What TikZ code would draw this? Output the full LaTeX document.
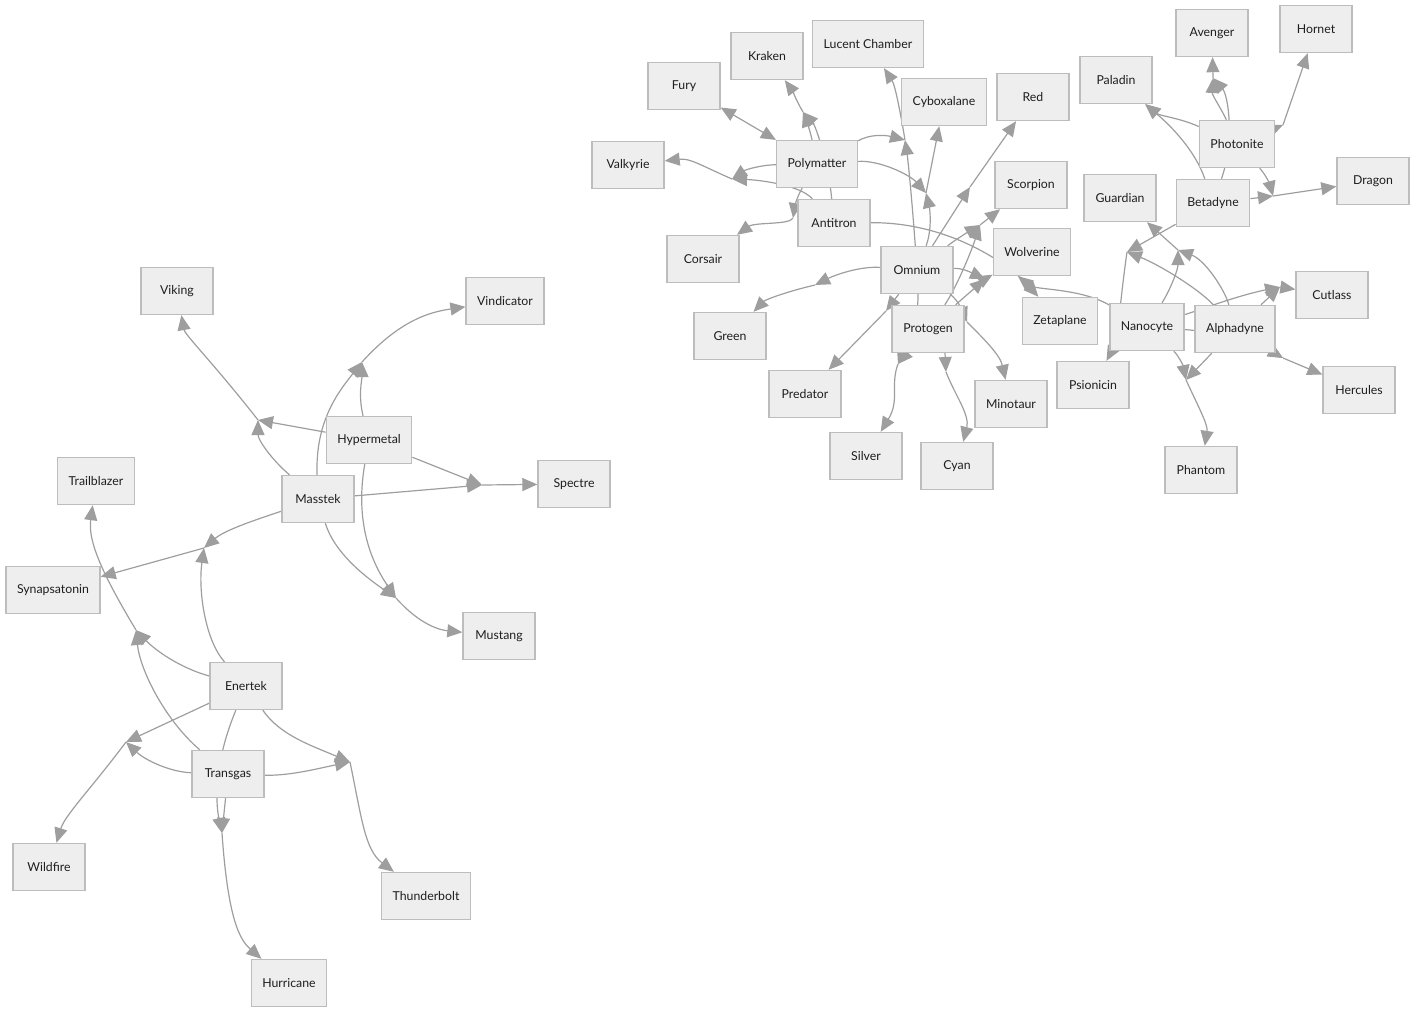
\documentclass[tikz,border=0pt]{standalone}
\usepackage{fontspec}
\setmainfont{Lato}
\usetikzlibrary{arrows.meta}
\pgfdeclarelayer{bg}
\pgfsetlayers{bg,main}
\definecolor{boxfill}{HTML}{EEEEEE}
\definecolor{boxline}{HTML}{BDBDBD}
\definecolor{edgecol}{HTML}{9E9E9E}
\definecolor{txt}{HTML}{1E1E1E}
\begin{document}
\begin{tikzpicture}[x=1pt,y=-1pt,
  box/.style={draw=boxline,fill=boxfill,line width=1.4pt,minimum width=72pt,minimum height=47pt,inner xsep=11pt,text=txt,font=\fontsize{12.3}{14}\selectfont},
  e/.style={draw=edgecol,line width=1.2pt,->},
  >={Triangle[length=15pt,width=13pt]}]
\useasboundingbox (0,0) rectangle (1415,1013);
% ---------- left cluster nodes
\node[box] (Viking) at (177,291) {Viking};
\node[box] (Vindicator) at (505,301) {Vindicator};
\node[box] (Hypermetal) at (369,440) {Hypermetal};
\node[box] (Masstek) at (318,499) {Masstek};
\node[box] (Spectre) at (574,484) {Spectre};
\node[box] (Trailblazer) at (96,481) {Trailblazer};
\node[box] (Synapsatonin) at (53,590) {Synapsatonin};
\node[box] (Mustang) at (499,636) {Mustang};
\node[box] (Enertek) at (246,686) {Enertek};
\node[box] (Transgas) at (228,774) {Transgas};
\node[box] (Wildfire) at (49,867) {Wildfire};
\node[box] (Thunderbolt) at (426,896) {Thunderbolt};
\node[box] (Hurricane) at (289,983) {Hurricane};
% ---------- right cluster nodes
\node[box] (Fury) at (684,86) {Fury};
\node[box] (Kraken) at (767,56) {Kraken};
\node[box] (Lucent) at (868,44) {Lucent Chamber};
\node[box] (Cyboxalane) at (944,102) {Cyboxalane};
\node[box] (Red) at (1033,97) {Red};
\node[box] (Valkyrie) at (628,165) {Valkyrie};
\node[box] (Polymatter) at (817,164) {Polymatter};
\node[box] (Antitron) at (834,223) {Antitron};
\node[box] (Corsair) at (703,259) {Corsair};
\node[box] (Scorpion) at (1031,185) {Scorpion};
\node[box] (Wolverine) at (1032,252) {Wolverine};
\node[box] (Omnium) at (917,270) {Omnium};
\node[box] (Green) at (730,336) {Green};
\node[box] (Protogen) at (928,329) {Protogen};
\node[box] (Zetaplane) at (1060,321) {Zetaplane};
\node[box] (Predator) at (805,394) {Predator};
\node[box] (Minotaur) at (1011,404) {Minotaur};
\node[box] (Silver) at (866,456) {Silver};
\node[box] (Cyan) at (957,466) {Cyan};
\node[box] (Avenger) at (1212,33) {Avenger};
\node[box] (Hornet) at (1316,29) {Hornet};
\node[box] (Paladin) at (1116,80) {Paladin};
\node[box] (Photonite) at (1237,144) {Photonite};
\node[box] (Guardian) at (1120,198) {Guardian};
\node[box] (Betadyne) at (1213,203) {Betadyne};
\node[box] (Dragon) at (1373,181) {Dragon};
\node[box] (Cutlass) at (1332,295) {Cutlass};
\node[box] (Nanocyte) at (1147,327) {Nanocyte};
\node[box] (Alphadyne) at (1235,329) {Alphadyne};
\node[box] (Psionicin) at (1093,385) {Psionicin};
\node[box] (Hercules) at (1359,390) {Hercules};
\node[box] (Phantom) at (1201,470) {Phantom};
% ---------- junctions
\coordinate (jV) at (258,420);
\coordinate (jVin) at (362,362);
\coordinate (jSp) at (482,485);
\coordinate (jMu) at (396,598);
\coordinate (jSy) at (204,548);
\coordinate (jTr) at (136,630);
\coordinate (jWi) at (126,742);
\coordinate (jTh) at (350,762);
\coordinate (jHu) at (222,833);
\coordinate (jKr) at (803,112);
\coordinate (jCo) at (793,218);
\coordinate (jVa) at (732,179);
\coordinate (jLu) at (905,140);
\coordinate (jCy) at (926,193);
\coordinate (jRe) at (970,187);
\coordinate (jSc) at (980,225);
\coordinate (jWo) at (985,279);
\coordinate (jGr) at (815,285);
\coordinate (jPr) at (886,311);
\coordinate (jSi) at (898,364);
\coordinate (jCn) at (946,372);
\coordinate (jMi) at (967,322);
\coordinate (jAv) at (1213,78);
\coordinate (jHo) at (1283,125);
\coordinate (jDr) at (1273,196);
\coordinate (jPs) at (1127,252);
\coordinate (jGu) at (1178,250);
\coordinate (jCu) at (1280,287);
\coordinate (jHe) at (1283,358);
\coordinate (jPh) at (1186,380);
\begin{pgfonlayer}{bg}
% ---------- left cluster edges
\draw[e] (Hypermetal) -- (jV);
\draw[e] (Masstek) .. controls (272,460) and (258,440) .. (jV);
\draw[e] (jV) .. controls (215,365) and (185,335) .. (Viking);
\draw[e] (Masstek) .. controls (315,420) and (340,390) .. (jVin);
\draw[e] (Hypermetal) .. controls (358,395) and (362,380) .. (jVin);
\draw[e] (jVin) .. controls (400,320) and (430,312) .. (Vindicator);
\draw[e] (Hypermetal) -- (jSp);
\draw[e] (Masstek) -- (jSp);
\draw[e] (jSp) -- (Spectre);
\draw[e] (Masstek) .. controls (335,555) and (370,580) .. (jMu);
\draw[e] (Hypermetal) .. controls (355,520) and (370,560) .. (jMu);
\draw[e] (jMu) .. controls (420,625) and (440,630) .. (Mustang);
\draw[e] (Masstek) .. controls (255,520) and (225,530) .. (jSy);
\draw[e] (Enertek) .. controls (205,640) and (198,590) .. (jSy);
\draw[e] (jSy) -- (Synapsatonin);
\draw[e] (Enertek) .. controls (180,668) and (155,650) .. (jTr);
\draw[e] (Transgas) .. controls (165,720) and (140,670) .. (jTr);
\draw[e] (jTr) .. controls (100,570) and (88,540) .. (Trailblazer);
\draw[e] (Enertek) -- (jWi);
\draw[e] (Transgas) .. controls (170,772) and (145,760) .. (jWi);
\draw[e] (jWi) .. controls (90,790) and (65,815) .. (Wildfire);
\draw[e] (Enertek) .. controls (280,735) and (310,745) .. (jTh);
\draw[e] (Transgas) .. controls (290,776) and (320,768) .. (jTh);
\draw[e] (jTh) .. controls (362,820) and (365,850) .. (Thunderbolt);
\draw[e] (Enertek) .. controls (215,760) and (215,800) .. (jHu);
\draw[e] (Transgas) -- (jHu);
\draw[e] (jHu) .. controls (228,920) and (240,940) .. (Hurricane);
% ---------- right cluster edges
\draw[e] (Polymatter) .. controls (810,130) and (806,120) .. (jKr);
\draw[e] (Antitron) .. controls (828,160) and (815,125) .. (jKr);
\draw[e] (jKr) .. controls (796,100) and (792,90) .. (Kraken);
\draw[e,<->] (Polymatter) -- (Fury);
\draw[e] (Polymatter) .. controls (798,195) and (795,205) .. (jCo);
\draw[e] (jCo) .. controls (790,225) and (755,222) .. (Corsair);
\draw[e] (Polymatter) .. controls (760,165) and (745,170) .. (jVa);
\draw[e] (Antitron) .. controls (800,185) and (760,180) .. (jVa);
\draw[e] (jVa) .. controls (700,165) and (690,158) .. (Valkyrie);
\draw[e] (Polymatter) .. controls (870,134) and (885,135) .. (jLu);
\draw[e] (Omnium) .. controls (912,200) and (908,160) .. (jLu);
\draw[e] (jLu) .. controls (900,110) and (895,85) .. (Lucent);
\draw[e] (Polymatter) .. controls (880,160) and (910,175) .. (jCy);
\draw[e] (Omnium) .. controls (932,230) and (930,210) .. (jCy);
\draw[e] (jCy) -- (Cyboxalane);
\draw[e] (Omnium) -- (jRe);
\draw[e] (jRe) -- (Red);
\draw[e] (Omnium) .. controls (955,240) and (968,232) .. (jSc);
\draw[e] (Protogen) .. controls (955,290) and (970,255) .. (jSc);
\draw[e] (jSc) -- (Scorpion);
\draw[e] (Omnium) .. controls (962,268) and (970,272) .. (jWo);
\draw[e] (Protogen) -- (jWo);
\draw[e] (jWo) -- (Wolverine);
\draw[e] (Antitron) .. controls (950,222) and (1010,265) .. (Zetaplane);
\draw[e] (Nanocyte) .. controls (1080,288) and (1035,290) .. ([xshift=-14pt]Wolverine.south);
\draw[e] (Omnium) .. controls (860,266) and (835,275) .. (jGr);
\draw[e] (jGr) .. controls (785,292) and (765,300) .. (Green);
\draw[e] (Omnium) -- (jPr);
\draw[e] (jPr) -- (Predator);
\draw[e] (Protogen) -- (jSi);
\draw[e] (Omnium) .. controls (919,320) and (905,345) .. (jSi);
\draw[e] (jSi) .. controls (890,385) and (900,400) .. (Silver);
\draw[e] ([xshift=17pt]Protogen.south) -- (jCn);
\draw[e] (jCn) .. controls (955,395) and (970,415) .. (Cyan);
\draw[e] (Omnium) .. controls (958,300) and (963,312) .. (jMi);
\draw[e] (jMi) .. controls (985,340) and (1000,355) .. (Minotaur);
\draw[e] (Photonite) .. controls (1222,110) and (1212,95) .. (jAv);
\draw[e] (Betadyne) .. controls (1235,140) and (1228,95) .. (jAv);
\draw[e] (jAv) -- (Avenger);
\draw[e] (Photonite) -- (jHo);
\draw[e] (jHo) -- (Hornet);
\draw[e] (Photonite) .. controls (1180,118) and (1160,116) .. (Paladin);
\draw[e] (Betadyne) .. controls (1195,150) and (1170,125) .. (Paladin);
\draw[e] (Betadyne) -- (jDr);
\draw[e] (Photonite) .. controls (1266,175) and (1270,185) .. (jDr);
\draw[e] (jDr) -- (Dragon);
\draw[e] (Betadyne) -- (jPs);
\draw[e] (Alphadyne) .. controls (1200,290) and (1160,265) .. (jPs);
\draw[e] (jPs) .. controls (1120,300) and (1118,340) .. (Psionicin);
\draw[e] (Nanocyte) .. controls (1170,290) and (1178,270) .. (jGu);
\draw[e] (Alphadyne) .. controls (1225,290) and (1205,260) .. (jGu);
\draw[e] (jGu) -- (Guardian);
\draw[e] (Nanocyte) .. controls (1205,308) and (1240,295) .. (jCu);
\draw[e] (Alphadyne) -- (jCu);
\draw[e] (jCu) -- (Cutlass);
\draw[e] (Alphadyne) -- (jHe);
\draw[e] (Nanocyte) .. controls (1220,332) and (1260,345) .. (jHe);
\draw[e] (jHe) -- (Hercules);
\draw[e] (Nanocyte) .. controls (1178,355) and (1183,365) .. (jPh);
\draw[e] (Alphadyne) -- (jPh);
\draw[e] (jPh) .. controls (1200,410) and (1208,425) .. (Phantom);
\end{pgfonlayer}
\end{tikzpicture}
\end{document}
